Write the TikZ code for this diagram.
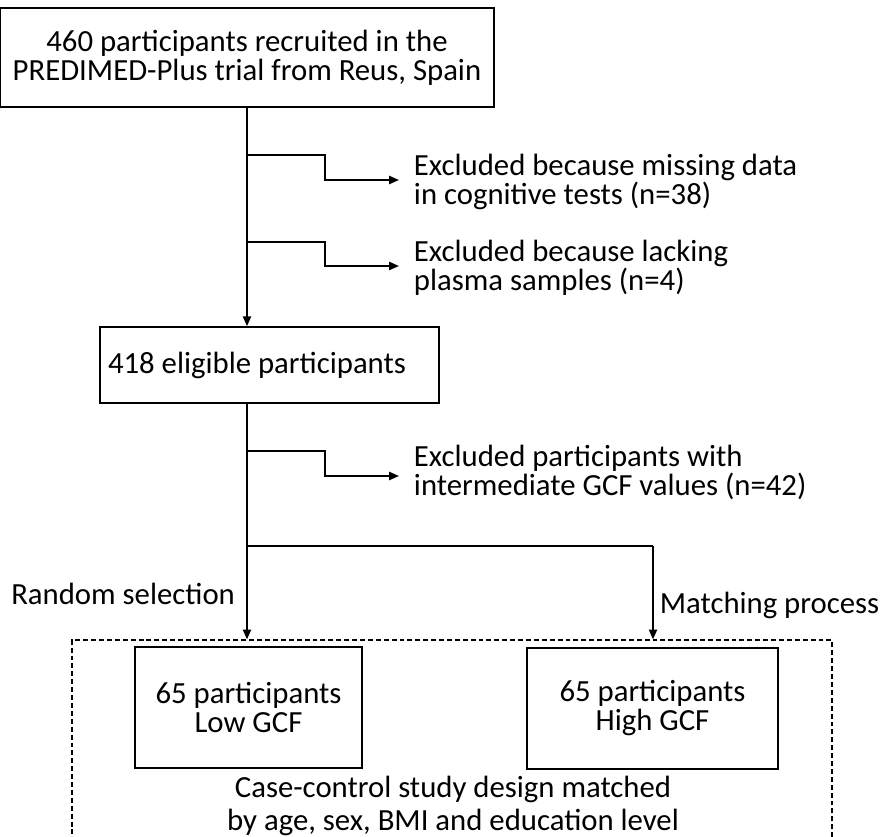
\documentclass[tikz,border=0pt]{standalone}
\usepackage{fontspec}
\setmainfont{Carlito}
\usetikzlibrary{arrows.meta}

\begin{document}
\begin{tikzpicture}[->,>={Triangle[length=5.6pt,width=4.6pt]},x=0.02cm,y=-0.02cm,line width=1.1pt,font=\fontsize{17.5}{16.5}\selectfont]

            \tikzstyle{box}=[rectangle,draw=black,line width=0.9pt,inner sep=0pt,align=center]
            \tikzstyle{note}=[anchor=west,align=left,inner xsep=0.28cm,inner ysep=0pt]
            \tikzstyle{frame}=[rectangle,draw=black,line width=0.7pt,dash pattern=on 2.8pt off 1.7pt]

            \useasboundingbox (0,0) rectangle (889,837);

            \node[box,minimum width=9.88cm,minimum height=1.98cm] (0) at (247,57.5) {460 participants recruited in the\\PREDIMED-Plus trial from Reus, Spain};
            \node[box,minimum width=6.78cm,minimum height=1.52cm] (1) at (269.5,365) {\hspace{-0.5cm}418 eligible participants};
            \node[frame,minimum width=15.2cm,minimum height=4.4cm] (4) at (452,750) {};
            \node[box,minimum width=4.54cm,minimum height=2.42cm] (2) at (248.5,707.5) {65 participants\\Low GCF};
            \node[box,minimum width=5.02cm,minimum height=2.42cm] (3) at (652.5,708.5) {65 participants\\High GCF};
            \node[inner sep=0pt,align=center,font=\fontsize{17.5}{19}\selectfont] (5) at (453,806) {Case-control study design matched\\by age, sex, BMI and education level};

            \node[note] (e1) at (399,182) {Excluded because missing data\\in cognitive tests (n=38)};
            \node[note] (e2) at (399,268) {Excluded because lacking\\plasma samples (n=4)};
            \node[note] (e3) at (399,472) {Excluded participants with\\intermediate GCF values (n=42)};

            \coordinate (b1) at (247,155);
            \coordinate (k1) at (325,180);
            \coordinate (b2) at (247,242);
            \coordinate (k2) at (325,266);
            \coordinate (b3) at (247,451);
            \coordinate (k3) at (325,476);
            \coordinate (s)  at (247,546);
            \coordinate (m)  at (653,546);

            \draw (0.south) -- (0.south |- 1.north);
            \draw (b1) -| (k1) -- (k1 -| e1.west);
            \draw (b2) -| (k2) -- (k2 -| e2.west);

            \draw[-] (1.south -| 0.south) -- (s) -- (m);
            \draw (b3) -| (k3) -- (k3 -| e3.west);
            \draw (s) -- node[pos=0.51,left=3pt] {Random selection} (s |- 4.north);
            \draw (m) -- node[pos=0.64,right] {Matching process} (m |- 4.north);
        \end{tikzpicture}
\end{document}
